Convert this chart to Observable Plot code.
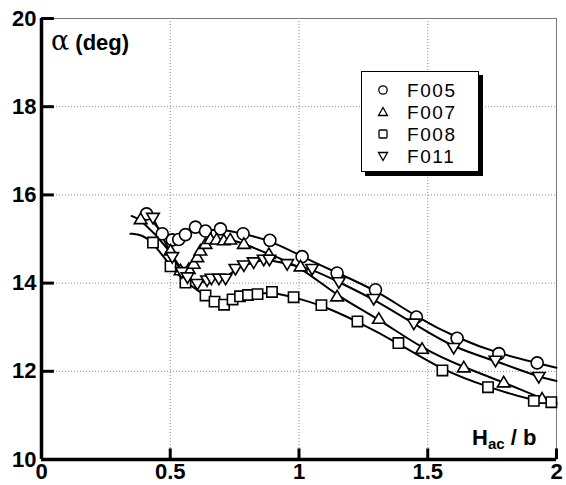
<!DOCTYPE html>
<html><head><meta charset="utf-8">
<script src="https://cdn.jsdelivr.net/npm/d3@7"></script>
<script src="https://cdn.jsdelivr.net/npm/@observablehq/plot@0.6"></script>
<style>
body{margin:0;background:#fff;}
#wrap{position:relative;width:566px;height:485px;overflow:hidden;font-family:"Liberation Sans",Arial,sans-serif;}
#ylab{position:absolute;left:51px;top:25px;font-weight:bold;font-size:22px;color:#000;white-space:nowrap;}
#ylab .a{font-weight:normal;font-size:27px;font-family:"DejaVu Serif",serif;}
#xlab{position:absolute;left:472px;top:425px;font-weight:bold;font-size:22px;color:#000;white-space:nowrap;}
#xlab sub{font-size:15px;vertical-align:-4px;line-height:0;}
#legend{position:absolute;left:361px;top:71px;width:116px;height:99px;border:1px solid #000;background:#fff;box-shadow:4px 4px 0 #000;}
#legend .row{position:absolute;left:0;height:19px;display:flex;align-items:center;}
#legend .row svg{margin-left:15px;flex:none;}
#legend .row span{display:inline-block;margin-left:18px;font-size:19px;letter-spacing:1.6px;line-height:19px;height:19px;color:#000;}
</style></head><body><div id="wrap"></div>
<script>
// ---- data ----
const seriesNames = ["F005", "F007", "F008", "F011"];

const f005H = [0.408,0.469,0.508,0.533,0.559,0.598,0.637,0.695,0.783,0.887,1.012,1.148,1.297,1.456,1.614,1.776,1.925];
const f005A = [15.57,15.12,14.98,14.99,15.10,15.27,15.18,15.23,15.12,14.97,14.60,14.23,13.85,13.23,12.75,12.40,12.19];

const f007H = [0.385,0.501,0.540,0.572,0.591,0.605,0.617,0.637,0.656,0.680,0.708,0.733,0.786,0.883,1.006,1.148,1.310,1.478,1.640,1.795,1.944];
const f007A = [15.45,14.74,14.29,14.32,14.44,14.59,14.74,14.89,15.00,14.99,14.97,14.99,14.89,14.66,14.38,13.70,13.19,12.51,12.09,11.75,11.38];

const f008H = [0.433,0.501,0.559,0.637,0.672,0.709,0.742,0.771,0.802,0.839,0.895,0.979,1.087,1.227,1.386,1.557,1.734,1.912,1.980];
const f008A = [14.92,14.38,14.01,13.72,13.58,13.51,13.63,13.70,13.73,13.75,13.80,13.68,13.50,13.13,12.64,12.02,11.64,11.33,11.30];

const f011H = [0.433,0.508,0.545,0.567,0.605,0.643,0.660,0.689,0.715,0.753,0.786,0.824,0.863,0.885,0.954,1.051,1.155,1.290,1.446,1.601,1.763,1.931];
const f011A = [15.48,14.59,14.25,14.13,13.98,14.06,14.10,14.10,14.10,14.32,14.40,14.47,14.53,14.53,14.43,14.32,14.02,13.64,13.08,12.53,12.24,11.87];

// fitted-curve ends beyond the markers
const curveStartH = {F005: [], F007: [0.35], F008: [0.345, 0.39], F011: []};
const curveStartA = {F005: [], F007: [15.52], F008: [15.12, 15.10], F011: []};
const curveEndH = {F005: [2.0], F007: [2.0], F008: [2.0], F011: [2.0]};
const curveEndA = {F005: [12.08], F007: [11.28], F008: [11.26], F011: [11.78]};

const xTicks = [0, 0.5, 1, 1.5, 2];
const yTicks = [10, 12, 14, 16, 18, 20];
const xGrid = [0.5, 1, 1.5];
const yGrid = [12, 14, 16, 18];

// ---- symbols ----
function mk(drawFn){ return {draw(ctx, size){ const r = Math.sqrt(size/Math.PI); drawFn(ctx, r); }}; }
const symCircle = mk((c,r)=>{ c.moveTo(r,0); c.arc(0,0,r,0,2*Math.PI); });
const symSquare = mk((c,r)=>{ const s=r*0.86; c.moveTo(-s,-s); c.lineTo(s,-s); c.lineTo(s,s); c.lineTo(-s,s); c.closePath(); });
const symUp = mk((c,r)=>{ const w=r*1.05; c.moveTo(0,-r*1.0); c.lineTo(w,r*0.75); c.lineTo(-w,r*0.75); c.closePath(); });
const symDown = mk((c,r)=>{ const w=r*1.05; c.moveTo(0,r*1.0); c.lineTo(w,-r*0.75); c.lineTo(-w,-r*0.75); c.closePath(); });
const symbols = {F005: symCircle, F007: symUp, F008: symSquare, F011: symDown};

const raw = {F005: [f005H, f005A], F007: [f007H, f007A], F008: [f008H, f008A], F011: [f011H, f011A]};
const points = [];
const curves = [];
for (const s of seriesNames) {
  const [H, A] = raw[s];
  H.forEach((h, i) => points.push({s, h, a: A[i]}));
  const ch = [...curveStartH[s], ...H, ...curveEndH[s]];
  const ca = [...curveStartA[s], ...A, ...curveEndA[s]];
  curves.push(ch.map((h, i) => ({s, h, a: ca[i]})));
}

const plot = Plot.plot({
  width: 566, height: 485,
  marginLeft: 41, marginRight: 10, marginTop: 18, marginBottom: 26,
  x: {domain: [0, 2]},
  y: {domain: [10, 20]},
  style: {fontFamily: "'Liberation Sans', Arial, sans-serif", fontSize: "22px", fontWeight: "bold", color: "#000", background: "transparent", overflow: "visible"},
  marks: [
    Plot.frame({stroke: "#777", strokeWidth: 1}),
    Plot.ruleX(xGrid, {x: d => d, stroke: "#888", strokeWidth: 1, strokeDasharray: "1,2"}),
    Plot.ruleY(yGrid, {y: d => d, stroke: "#888", strokeWidth: 1, strokeDasharray: "1,2"}),
    ...curves.map(c => Plot.line(c, {x: "h", y: "a", curve: "basis", stroke: "#000", strokeWidth: 2})),
    ...seriesNames.map(s => Plot.dot(points.filter(p => p.s === s), {x: "h", y: "a", r: 6, symbol: symbols[s], fill: "#fff", stroke: "#000", strokeWidth: 1.6})),
    Plot.ruleX(xTicks.slice(1), {x: d => d, y1: 10, y2: 10.24, stroke: "#000", strokeWidth: 3}),
    Plot.ruleY(yTicks.slice(1), {y: d => d, x1: 0, x2: 0.05, stroke: "#000", strokeWidth: 3}),
    Plot.ruleX([0], {stroke: "#000", strokeWidth: 3.5}),
    Plot.ruleY([10], {stroke: "#000", strokeWidth: 3.5}),
    Plot.axisX(xTicks, {tickSize: 0, tickPadding: 4, tickFormat: d => String(d), label: null}),
    Plot.axisY(yTicks, {tickSize: 0, tickPadding: 5, tickFormat: d => String(d), label: null})
  ]
});

const wrap = document.getElementById("wrap");
wrap.appendChild(plot);

const ylab = document.createElement("div");
ylab.id = "ylab";
ylab.innerHTML = '<span class="a">α</span> (deg)';
wrap.appendChild(ylab);

const xlab = document.createElement("div");
xlab.id = "xlab";
xlab.innerHTML = 'H<sub>ac</sub> / b';
wrap.appendChild(xlab);

// legend
const legend = document.createElement("div");
legend.id = "legend";
const rowTops = [8.5, 30.5, 52.5, 74.5];
const legendPaths = {
  F005: '<circle cx="6" cy="6" r="4.2" fill="#fff" stroke="#000" stroke-width="1.3"/>',
  F007: '<path d="M6,1.5 L10.5,9.5 L1.5,9.5 Z" fill="#fff" stroke="#000" stroke-width="1.3"/>',
  F008: '<rect x="2" y="2" width="8" height="8" rx="1" fill="#fff" stroke="#000" stroke-width="1.3"/>',
  F011: '<path d="M6,10.5 L10.5,2.5 L1.5,2.5 Z" fill="#fff" stroke="#000" stroke-width="1.3"/>'
};
seriesNames.forEach((s, i) => {
  const row = document.createElement("div");
  row.className = "row";
  row.style.top = rowTops[i] + "px";
  row.innerHTML = `<svg width="12" height="12">${legendPaths[s]}</svg><span>${s}</span>`;
  legend.appendChild(row);
});
wrap.appendChild(legend);
</script>
</body></html>
